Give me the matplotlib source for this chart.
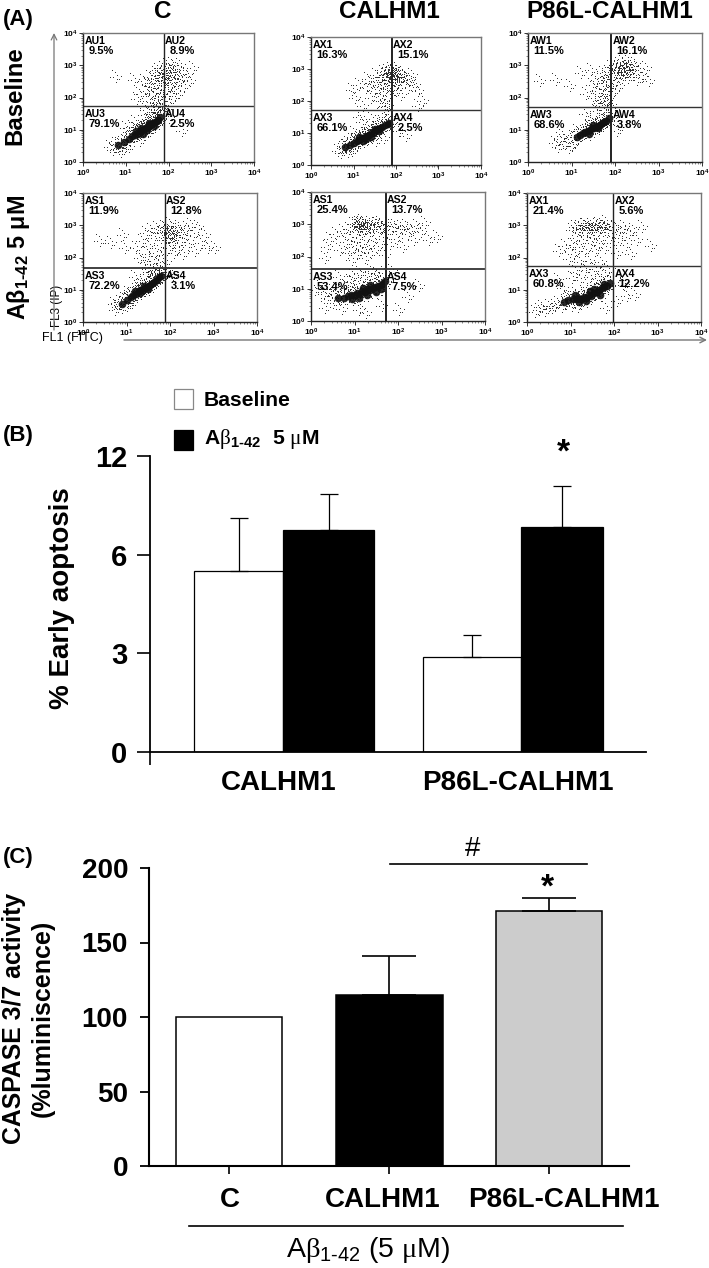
#!/usr/bin/env python3
# plot.py - flow cytometry dot plots (A) and the two bar charts (B, C)

import numpy as np
import matplotlib
matplotlib.use("Agg")
import matplotlib.pyplot as plt
from matplotlib.path import Path

plt.rcParams["font.family"] = ["Liberation Sans", "DejaVu Sans"]
plt.rcParams["font.weight"] = "bold"
plt.rcParams["mathtext.fontset"] = "custom"
plt.rcParams["mathtext.rm"] = "Liberation Sans:normal"
plt.rcParams["mathtext.bf"] = "Liberation Sans:bold"
plt.rcParams["mathtext.it"] = "Liberation Sans:italic"
plt.rcParams["mathtext.sf"] = "Liberation Serif:normal"

W, H = 709, 1268

# ---- panel A: dots, log10 units (FL1, FL3)
au_x = [1.32, 1.18, 0.75, 1.25, 1.4, 1.45, 1.5, 1.52, 1.55, 1.58, 1.6, 1.62, 1.64, 1.66, 1.68, 1.7, 1.72, 1.74, 1.76, 1.78, 1.8, 1.82, 1.84, 1.86, 1.88, 1.9, 1.93, 1.95, 1.97, 1.99, 2.0, 2.02, 2.04, 2.06, 2.08, 2.1, 2.12, 2.15, 2.18, 2.2, 2.24, 2.28, 2.3, 2.34, 2.4, 2.48, 2.55, 1.72, 1.8, 1.9, 1.98, 2.05, 2.1, 1.85, 1.95, 2.0, 1.76, 1.9, 2.02, 2.12, 2.22, 1.65, 1.7, 1.55, 0.6, 0.68, 0.75, 0.82, 0.9, 0.86, 0.95, 1.0, 1.05, 1.02, 1.2, 1.3, 1.45, 1.6, 1.7, 1.78, 1.85, 1.92, 1.98, 2.3, 1.55, 1.4, 1.12, 0.98]
au_y = [2.1, 2.55, 2.65, 1.95, 2.5, 2.2, 2.4, 1.9, 2.65, 2.1, 2.35, 1.85, 2.6, 2.2, 2.75, 2.0, 2.45, 2.85, 1.85, 2.3, 2.6, 2.1, 2.9, 1.95, 2.5, 2.75, 2.25, 3.0, 2.6, 2.1, 2.85, 2.7, 2.4, 3.05, 2.55, 2.8, 2.2, 2.95, 2.65, 2.45, 3.0, 2.6, 2.8, 2.35, 2.7, 2.5, 2.9, 2.7, 2.8, 2.65, 2.75, 2.85, 2.65, 2.9, 2.55, 2.7, 1.78, 1.82, 1.9, 2.05, 2.15, 1.55, 1.6, 1.5, 0.45, 0.38, 0.55, 0.4, 0.6, 0.32, 0.48, 0.7, 0.45, 0.85, 1.25, 0.65, 1.6, 1.5, 1.65, 1.55, 1.65, 1.6, 1.35, 0.95, 0.95, 1.45, 1.1, 1.05]
au_core_x = [0.82, 0.95, 1.08, 1.15, 1.22, 1.28, 1.34, 1.38, 1.42, 1.47, 1.52, 1.56, 1.6, 1.64, 1.68, 1.72, 1.76, 1.81, 1.25, 1.4, 1.5, 1.36, 1.55, 1.65]
au_core_y = [0.52, 0.62, 0.72, 0.8, 0.85, 0.88, 0.95, 0.98, 1.02, 1.06, 1.1, 1.15, 1.18, 1.2, 1.25, 1.28, 1.3, 1.38, 0.95, 0.88, 1.0, 1.05, 1.22, 1.12]

ax_x = [0.95, 1.02, 1.1, 1.2, 1.28, 1.32, 1.38, 1.42, 1.46, 1.5, 1.54, 1.58, 1.6, 1.62, 1.64, 1.66, 1.68, 1.7, 1.72, 1.74, 1.76, 1.78, 1.8, 1.82, 1.84, 1.86, 1.88, 1.9, 1.92, 1.94, 1.96, 1.98, 2.0, 2.02, 2.05, 2.08, 2.1, 2.14, 2.18, 2.22, 2.26, 2.3, 2.36, 2.42, 2.5, 2.62, 1.75, 1.83, 1.9, 1.97, 2.04, 1.8, 1.88, 1.95, 2.02, 1.7, 1.78, 0.6, 0.68, 0.72, 0.78, 0.84, 0.9, 0.85, 0.95, 1.0, 1.05, 1.18, 1.3, 1.42, 1.5, 1.62, 1.72, 1.85, 2.05, 2.2, 2.5, 0.98, 1.1, 1.7]
ax_y = [2.35, 2.1, 2.5, 1.85, 2.4, 2.7, 2.1, 2.55, 2.3, 2.8, 2.6, 2.0, 2.45, 2.75, 2.25, 2.9, 2.6, 2.0, 2.8, 2.4, 2.95, 2.65, 2.15, 2.85, 2.55, 3.0, 2.75, 2.4, 2.9, 2.65, 3.05, 2.3, 2.8, 2.55, 2.9, 2.7, 2.2, 2.85, 2.6, 2.75, 2.4, 2.65, 2.8, 2.5, 2.3, 2.0, 2.8, 2.85, 2.75, 2.7, 2.8, 2.65, 2.9, 2.85, 2.65, 1.8, 1.85, 0.45, 0.38, 0.52, 0.6, 0.4, 0.55, 0.7, 0.45, 0.75, 0.6, 1.35, 1.2, 1.45, 0.75, 1.55, 1.5, 1.6, 1.05, 0.9, 1.85, 1.0, 1.5, 0.85]
ax_core_x = [0.8, 0.92, 1.02, 1.08, 1.14, 1.2, 1.26, 1.32, 1.36, 1.42, 1.48, 1.53, 1.58, 1.63, 1.68, 1.74, 1.8, 1.84, 1.22, 1.3, 1.4, 1.5, 1.6, 1.12]
ax_core_y = [0.55, 0.62, 0.7, 0.75, 0.78, 0.85, 0.88, 0.92, 0.95, 1.0, 1.04, 1.08, 1.12, 1.15, 1.2, 1.24, 1.28, 1.32, 0.76, 0.8, 0.88, 1.12, 1.05, 0.86]

aw_x = [0.25, 0.62, 0.95, 1.2, 1.3, 1.42, 1.45, 1.5, 1.54, 1.58, 1.62, 1.66, 1.68, 1.7, 1.72, 1.74, 1.76, 1.78, 1.8, 1.82, 1.84, 1.86, 1.88, 1.9, 1.93, 1.96, 1.98, 2.0, 2.03, 2.06, 2.08, 2.1, 2.12, 2.14, 2.16, 2.18, 2.2, 2.22, 2.25, 2.28, 2.3, 2.33, 2.36, 2.4, 2.44, 2.48, 2.52, 2.6, 2.68, 2.75, 2.05, 2.12, 2.18, 2.24, 2.3, 2.1, 2.2, 1.6, 1.72, 1.8, 1.88, 0.72, 0.6, 0.66, 0.78, 0.82, 0.88, 0.92, 0.98, 1.02, 1.05, 1.1, 1.28, 1.42, 1.55, 1.7, 1.8, 1.95, 2.1, 2.02]
aw_y = [2.5, 2.55, 2.35, 2.75, 2.1, 2.85, 2.4, 2.0, 2.5, 2.2, 1.9, 2.6, 2.3, 2.75, 2.05, 2.45, 1.85, 2.65, 2.25, 2.8, 2.5, 2.05, 2.95, 2.35, 2.7, 2.2, 3.0, 2.55, 2.85, 2.35, 3.05, 2.75, 2.95, 2.6, 3.1, 2.85, 2.7, 3.0, 2.9, 2.6, 3.1, 2.8, 2.95, 2.7, 3.05, 2.55, 2.85, 2.65, 2.9, 2.5, 2.9, 2.95, 2.85, 2.9, 2.95, 2.8, 2.8, 1.78, 1.82, 1.9, 1.78, 0.72, 0.6, 0.45, 0.82, 0.55, 0.65, 0.42, 0.5, 0.78, 0.62, 0.95, 1.5, 1.3, 1.58, 1.6, 1.5, 1.6, 1.15, 0.95]
aw_core_x = [1.12, 1.2, 1.26, 1.32, 1.37, 1.42, 1.47, 1.52, 1.56, 1.6, 1.65, 1.7, 1.75, 1.8, 1.86, 1.4, 1.5, 1.62]
aw_core_y = [0.78, 0.85, 0.9, 0.92, 0.95, 1.0, 1.04, 1.06, 1.1, 1.12, 1.16, 1.22, 1.25, 1.28, 1.35, 0.88, 1.14, 1.05]

as_x = [0.36, 0.62, 0.9, 0.95, 1.2, 1.28, 1.34, 1.38, 1.42, 1.46, 1.5, 1.54, 1.58, 1.62, 1.65, 1.68, 1.72, 1.75, 1.78, 1.8, 1.83, 1.86, 1.88, 1.92, 1.95, 1.98, 2.0, 2.03, 2.06, 2.08, 2.12, 2.15, 2.18, 2.22, 2.25, 2.28, 2.32, 2.36, 2.4, 2.45, 2.5, 2.55, 2.62, 2.7, 2.78, 2.85, 3.0, 1.82, 1.9, 1.96, 2.02, 2.1, 1.88, 1.96, 2.04, 1.6, 1.7, 0.68, 0.72, 0.78, 0.82, 0.88, 0.92, 0.98, 1.0, 1.05, 1.1, 1.18, 1.3, 1.42, 1.5, 1.62, 1.7, 1.78, 1.86, 1.95, 2.05, 1.48, 1.25, 1.02]
as_y = [2.5, 2.45, 2.7, 2.3, 2.3, 2.0, 2.5, 1.85, 2.75, 2.1, 2.35, 2.85, 1.9, 2.6, 2.15, 2.9, 1.8, 2.4, 2.75, 2.05, 2.95, 2.55, 1.85, 2.8, 2.3, 3.05, 2.7, 2.45, 2.9, 2.15, 2.75, 2.3, 2.95, 2.55, 2.8, 2.1, 2.65, 2.9, 2.4, 3.0, 2.7, 2.2, 2.95, 2.45, 2.7, 2.3, 2.3, 2.8, 2.75, 2.65, 2.8, 2.6, 2.9, 2.55, 2.75, 1.55, 1.6, 0.55, 0.38, 0.48, 0.62, 0.42, 0.7, 0.5, 0.78, 0.65, 0.6, 1.4, 1.15, 1.5, 1.55, 1.58, 1.45, 1.6, 1.5, 1.55, 1.45, 1.65, 1.1, 0.9]
as_core_x = [0.9, 1.02, 1.1, 1.16, 1.22, 1.28, 1.32, 1.37, 1.42, 1.46, 1.51, 1.56, 1.6, 1.65, 1.7, 1.75, 1.8, 1.3, 1.4, 1.5, 1.2]
as_core_y = [0.55, 0.68, 0.78, 0.85, 0.88, 0.95, 0.98, 1.0, 1.04, 1.08, 1.12, 1.18, 1.22, 1.26, 1.3, 1.38, 1.42, 0.9, 1.12, 1.02, 0.95]

ay_x = [0.42, 0.35, 0.55, 0.3, 0.65, 0.72, 0.78, 0.82, 0.86, 0.9, 0.92, 0.95, 0.98, 1.0, 1.03, 1.05, 1.08, 1.1, 1.12, 1.15, 1.18, 1.2, 1.22, 1.25, 1.28, 1.3, 1.33, 1.36, 1.4, 1.43, 1.46, 1.5, 1.53, 1.56, 1.6, 1.64, 1.68, 1.72, 1.76, 1.8, 1.85, 1.9, 1.95, 2.0, 2.05, 2.1, 2.15, 2.2, 2.28, 2.35, 2.42, 2.5, 2.6, 2.7, 2.88, 1.05, 1.1, 1.15, 1.2, 1.25, 1.02, 1.12, 1.3, 1.4, 1.22, 1.08, 1.5, 1.6, 0.08, 0.2, 0.28, 0.35, 0.42, 0.5, 0.58, 0.65, 0.72, 0.48, 0.3, 0.8, 0.88, 0.95, 1.1, 1.2, 1.35, 1.5, 1.62, 1.85, 2.0, 2.2, 2.45, 1.68, 1.8, 1.25, 0.7, 1.08, 1.42, 0.95, 0.62]
ay_y = [2.55, 2.3, 2.7, 1.95, 2.2, 2.8, 2.45, 2.1, 2.85, 2.55, 1.9, 3.0, 2.3, 2.75, 2.1, 3.05, 2.6, 2.9, 2.2, 3.1, 2.45, 2.8, 1.95, 3.0, 2.3, 2.7, 3.05, 2.1, 2.9, 2.5, 3.0, 2.25, 2.8, 3.05, 2.55, 2.95, 2.05, 2.75, 3.0, 2.4, 2.85, 2.95, 2.55, 2.8, 2.9, 2.3, 2.95, 2.7, 2.85, 2.5, 2.95, 2.75, 3.05, 2.5, 2.6, 2.95, 3.0, 2.9, 3.02, 2.95, 3.0, 3.05, 2.92, 2.98, 2.85, 2.85, 3.0, 2.9, 0.95, 1.05, 0.85, 0.72, 0.98, 0.8, 1.0, 0.65, 0.92, 0.55, 0.4, 1.05, 1.25, 1.4, 1.5, 1.35, 1.55, 1.45, 0.45, 1.55, 0.35, 0.75, 1.1, 1.5, 1.3, 0.25, 0.38, 0.35, 1.5, 1.2, 1.35, 1.5]
ay_core_x = [0.62, 0.75, 0.85, 0.92, 1.0, 1.06, 1.12, 1.18, 1.24, 1.3, 1.36, 1.42, 1.48, 1.54, 1.6, 1.65, 1.7, 0.95, 1.1, 1.2, 1.35, 1.5, 1.6, 1.28]
ay_core_y = [0.72, 0.72, 0.78, 0.82, 0.8, 0.88, 0.85, 0.92, 0.9, 0.98, 0.95, 1.02, 1.05, 1.1, 1.12, 1.18, 1.25, 0.68, 0.72, 1.02, 1.12, 0.9, 1.0, 0.82]

az_x = [0.72, 0.85, 0.95, 1.0, 1.02, 1.05, 1.08, 1.1, 1.14, 1.18, 1.2, 1.24, 1.28, 1.3, 1.34, 1.38, 1.4, 1.44, 1.48, 1.5, 1.54, 1.58, 1.6, 1.64, 1.68, 1.7, 1.74, 1.78, 1.8, 1.85, 1.9, 1.95, 2.0, 2.04, 2.1, 2.14, 2.2, 2.26, 2.32, 2.36, 2.42, 2.5, 2.62, 2.82, 1.18, 1.25, 1.32, 1.4, 1.45, 1.52, 1.6, 1.66, 1.72, 1.78, 1.35, 1.5, 1.0, 1.1, 1.2, 1.32, 1.42, 1.55, 1.62, 1.75, 1.85, 2.1, 2.2, 2.45, 0.15, 0.25, 0.32, 0.4, 0.48, 0.55, 0.62, 0.7, 0.78, 0.88, 0.92, 1.0, 1.15, 1.8, 2.05, 2.28, 0.68, 0.8]
az_y = [2.2, 2.35, 1.95, 2.85, 2.4, 2.1, 2.95, 2.6, 2.25, 2.85, 1.85, 2.5, 3.0, 2.2, 2.7, 2.95, 1.9, 2.45, 2.9, 2.65, 2.2, 3.0, 2.4, 2.85, 1.85, 2.6, 2.95, 2.3, 3.1, 2.9, 2.7, 2.45, 2.95, 2.15, 2.85, 2.6, 2.95, 2.4, 2.75, 2.1, 2.85, 2.55, 2.95, 2.35, 2.95, 2.9, 3.0, 2.92, 3.02, 2.95, 3.05, 2.9, 3.0, 2.95, 2.85, 2.85, 1.35, 1.55, 1.3, 1.6, 1.4, 1.65, 1.35, 1.5, 1.6, 1.45, 1.15, 0.85, 0.32, 0.38, 0.45, 0.35, 0.5, 0.42, 0.5, 0.6, 0.45, 0.55, 0.75, 0.5, 0.48, 0.42, 0.65, 0.8, 1.3, 1.05]
az_core_x = [0.85, 0.95, 1.05, 1.12, 1.18, 1.24, 1.3, 1.36, 1.42, 1.48, 1.54, 1.6, 1.66, 1.72, 1.78, 1.84, 1.9, 1.2, 1.35, 1.45, 1.55, 1.68, 1.78, 1.1]
az_core_y = [0.62, 0.68, 0.72, 0.7, 0.75, 0.72, 0.78, 0.75, 0.85, 0.82, 0.9, 0.92, 0.98, 1.05, 1.08, 1.12, 1.2, 0.62, 0.65, 0.95, 1.02, 0.85, 1.18, 0.85]

# quadrant gates per panel (FL1, FL3), log10 units
gate_x = [1.89, 1.9, 1.91, 1.88, 1.72, 1.98]
gate_y = [1.74, 1.72, 1.71, 1.67, 1.61, 1.74]

quad_names = [["AU1", "AU2", "AU3", "AU4"], ["AX1", "AX2", "AX3", "AX4"], ["AW1", "AW2", "AW3", "AW4"],
              ["AS1", "AS2", "AS3", "AS4"], ["AS1", "AS2", "AS3", "AS4"], ["AX1", "AX2", "AX3", "AX4"]]
quad_pct = [["9.5%", "8.9%", "79.1%", "2.5%"], ["16.3%", "15.1%", "66.1%", "2.5%"], ["11.5%", "16.1%", "68.6%", "3.8%"],
            ["11.9%", "12.8%", "72.2%", "3.1%"], ["25.4%", "13.7%", "53.4%", "7.5%"], ["21.4%", "5.6%", "60.8%", "12.2%"]]
dot_x = [au_x, ax_x, aw_x, as_x, ay_x, az_x]
dot_y = [au_y, ax_y, aw_y, as_y, ay_y, az_y]
core_x = [au_core_x, ax_core_x, aw_core_x, as_core_x, ay_core_x, az_core_x]
core_y = [au_core_y, ax_core_y, aw_core_y, as_core_y, ay_core_y, az_core_y]

# ---- panel B (axis is drawn 0, 3, 6, then 12 at the next equal step)
b_groups = ["CALHM1", "P86L-CALHM1"]
b_baseline = [5.5, 2.88]
b_baseline_err = [1.62, 0.67]
b_abeta = [6.76, 6.85]
b_abeta_err = [1.09, 1.25]
b_tick_pos = [0, 3, 6, 9]
b_tick_lab = ["0", "3", "6", "12"]

# ---- panel C
c_groups = ["C", "CALHM1", "P86L-CALHM1"]
c_vals = [100, 115, 171]
c_errs = [0, 26, 9]
c_cols = ["white", "black", "#cccccc"]

# one stipple mark stands for a small clump of events, so the clouds read as dots
SPECKS = [(-0.42, 0.18), (-0.3, -0.32), (-0.18, 0.4), (-0.12, -0.05), (0.02, 0.28), (0.06, -0.4),
          (0.16, 0.08), (0.28, -0.2), (0.33, 0.38), (0.44, -0.02), (-0.36, -0.08), (0.12, -0.18)]


def clump_marker(size=0.055):
    verts = []
    codes = []
    for cx, cy in SPECKS:
        verts += [(cx, cy), (cx + size, cy), (cx + size, cy + size), (cx, cy + size), (cx, cy)]
        codes += [Path.MOVETO, Path.LINETO, Path.LINETO, Path.LINETO, Path.CLOSEPOLY]
    return Path(verts, codes)


CLUMP = clump_marker()


def px_axes(fig, left, top, right, bottom):
    return fig.add_axes([left / W, 1 - bottom / H, (right - left) / W, (bottom - top) / H])


def log_xy(xs, ys):
    n = min(len(xs), len(ys))
    return np.power(10.0, xs[:n]), np.power(10.0, ys[:n])


def dot_panel(fig, rect, i):
    ax = px_axes(fig, *rect)
    ax.set_xscale("log")
    ax.set_yscale("log")
    ax.set_xlim(1, 1e4)
    ax.set_ylim(1, 1e4)
    ax.scatter(*log_xy(dot_x[i], dot_y[i]), s=110, marker=CLUMP, c="#333333", lw=0)
    ax.scatter(*log_xy(core_x[i], core_y[i]), s=160, marker=CLUMP, c="#333333", lw=0)
    ax.scatter(*log_xy(core_x[i], core_y[i]), s=30, c="#111111", lw=0, alpha=0.9)
    ax.axvline(10 ** gate_x[i], color="#222222", lw=1.4 if i in (1, 2, 4) else 1.0)
    ax.axhline(10 ** gate_y[i], color="#333333", lw=1.3 if i in (3, 4) else 1.0)
    for s in ax.spines.values():
        s.set_color("#777777")
        s.set_linewidth(1.0)
    ax.spines["left"].set_color("#222222")
    ax.spines["bottom"].set_color("#222222")
    ax.set_xticks([1, 10, 100, 1000, 10000], ["10$^{\\mathbf{0}}$", "10$^{\\mathbf{1}}$", "10$^{\\mathbf{2}}$", "10$^{\\mathbf{3}}$", "10$^{\\mathbf{4}}$"])
    ax.set_yticks([1, 10, 100, 1000, 10000], ["10$^{\\mathbf{0}}$", "10$^{\\mathbf{1}}$", "10$^{\\mathbf{2}}$", "10$^{\\mathbf{3}}$", "10$^{\\mathbf{4}}$"])
    ax.tick_params(which="major", labelsize=6, length=3, width=0.7, pad=1, color="#333333")
    ax.tick_params(which="minor", length=1.5, width=0.4, labelbottom=False, labelleft=False, color="#333333")
    # quadrant text
    gx = 10 ** gate_x[i]
    spots = [(1.0, 1.0), (gx, 1.0), (1.0, gate_y[i] / 4), (gx, gate_y[i] / 4)]
    for (qx, top_y), name, pct in zip(spots, quad_names[i], quad_pct[i]):
        ax.annotate(name, (qx, top_y), xycoords=("data", "axes fraction"), xytext=(1, -2),
                    textcoords="offset points", fontsize=7.6, va="top", ha="left")
        ax.annotate(pct, (qx, top_y), xycoords=("data", "axes fraction"), xytext=(4, -9.5),
                    textcoords="offset points", fontsize=8, va="top", ha="left")


fig = plt.figure(figsize=(W / 100, H / 100), dpi=100)

rects = [(83, 33, 254, 162), (311, 37, 481, 165), (528, 33, 702, 162),
         (83, 193, 257, 322), (311, 192, 485, 321), (527, 193, 701, 322)]
for i, rect in enumerate(rects):
    dot_panel(fig, rect, i)

# overlay in picture pixels for all the loose annotation
ov = fig.add_axes([0, 0, 1, 1], zorder=10)
ov.set_xlim(0, W)
ov.set_ylim(H, 0)
ov.axis("off")
ov.patch.set_alpha(0)

for x, t in zip([163, 389, 610], ["C", "CALHM1", "P86L-CALHM1"]):
    ov.text(x, 12, t, fontsize=17.5, ha="center", va="center")
ov.text(3, 19, "(A)", fontsize=16, va="center")
ov.text(3, 435, "(B)", fontsize=16, va="center")
ov.text(3, 858, "(C)", fontsize=16, va="center")
ov.text(15, 96, "Baseline", fontsize=17.3, rotation=90, ha="center", va="center")
ov.text(19, 257, r"Aβ$_{\mathbf{1‐42}}$ 5 μM", fontsize=16.8, rotation=90, ha="center", va="center")
ov.text(57, 306, "FL3 (IP)", fontsize=8.4, weight="normal", rotation=90, ha="center", va="center")
ov.text(72, 338, "FL1 (FITC)", fontsize=9, weight="normal", ha="center", va="center")
ov.annotate("", xy=(54, 33), xytext=(54, 330), arrowprops=dict(arrowstyle="->", color="#777777", lw=0.9, shrinkA=0, shrinkB=0))
ov.annotate("", xy=(707, 340), xytext=(124, 340), arrowprops=dict(arrowstyle="->", color="#777777", lw=1.0, shrinkA=0, shrinkB=0))

# ---- panel B
axb = px_axes(fig, 150, 456, 646, 752)
b_x_white = [88.5, 322]
b_x_black = [178.5, 412]
b_w_white = [89, 98]
b_w_black = [91, 82]
axb.bar(b_x_white, b_baseline, width=b_w_white, color="white", edgecolor="black", lw=0.9)
axb.bar(b_x_black, b_abeta, width=b_w_black, color="black", edgecolor="black", lw=0.9)
axb.errorbar(b_x_white, b_baseline, yerr=[[0, 0], b_baseline_err], fmt="none", ecolor="black", elinewidth=0.9, capsize=6.5, capthick=0.9)
axb.errorbar(b_x_black, b_abeta, yerr=[[0, 0], b_abeta_err], fmt="none", ecolor="black", elinewidth=0.9, capsize=6.5, capthick=0.9)
axb.set_xlim(0, 496)
axb.set_ylim(0, 9)
axb.set_yticks(b_tick_pos, b_tick_lab, fontsize=21)
axb.set_xticks([0], [""])
axb.tick_params(axis="y", length=9.4, width=1.2, pad=7)
axb.tick_params(axis="x", length=9, width=1.2)
axb.spines[["top", "right"]].set_visible(False)
axb.spines[["left", "bottom"]].set_linewidth(1.3)
axb.text(413, 9.1, "*", fontsize=24, ha="center", va="center")
for x, t in zip([279, 518], b_groups):
    ov.text(x, 783, t, fontsize=20, ha="center", va="center")
ov.text(62, 598, "% Early aoptosis", fontsize=20, rotation=90, ha="center", va="center")

# legend
ov.add_patch(plt.Rectangle((174, 389), 19, 20, fc="white", ec="#888888", lw=0.9))
ov.add_patch(plt.Rectangle((174, 430), 19, 20, fc="black", ec="black", lw=0.9))
ov.text(204, 400, "Baseline", fontsize=15.2, va="center")
ov.text(204, 439, r"A$\mathsf{\beta}_{\mathbf{1‐42}}$  5 $\mathsf{\mu}$M", fontsize=15.2, va="center")

# ---- panel C
axc = px_axes(fig, 149, 868, 629, 1166)
axc.bar([80, 240, 400], c_vals, width=[106, 107, 106], color=c_cols, edgecolor="black", lw=1.1)
axc.errorbar([240, 400], c_vals[1:], yerr=[[0, 0], c_errs[1:]], fmt="none", ecolor="black", elinewidth=1.2, capsize=19.4, capthick=1.2)
axc.set_xlim(0, 480)
axc.set_ylim(0, 200)
axc.set_yticks([0, 50, 100, 150, 200], [0, 50, 100, 150, 200], fontsize=20)
axc.set_xticks([80, 240, 400], ["", "", ""])
axc.tick_params(axis="y", length=6.5, width=1.3, pad=8.6)
axc.tick_params(axis="x", length=6, width=1.2)
axc.spines[["top", "right"]].set_visible(False)
axc.spines[["left", "bottom"]].set_linewidth(1.5)
for x, t in zip([230, 383, 564], c_groups):
    ov.text(x, 1200, t, fontsize=20, ha="center", va="center")
ov.text(14, 1018, "CASPASE 3/7 activity", fontsize=17.8, rotation=90, ha="center", va="center")
ov.text(43, 1018, "(%luminiscence)", fontsize=18, rotation=90, ha="center", va="center")

ov.plot([390, 587], [864, 864], color="black", lw=1.2)
ov.text(473, 849, "#", fontsize=20, weight="normal", ha="center", va="center")
ov.text(547, 888, "*", fontsize=24, ha="center", va="center")
ov.plot([189, 623], [1226, 1226], color="black", lw=1.2)
ov.text(368, 1250, r"A$\mathsf{\beta}_{\mathrm{1‐42}}$ (5 $\mathsf{\mu}\mathrm{M}$)", fontsize=20.5, weight="normal", ha="center", va="center")

fig.savefig("out.png", dpi=100)
